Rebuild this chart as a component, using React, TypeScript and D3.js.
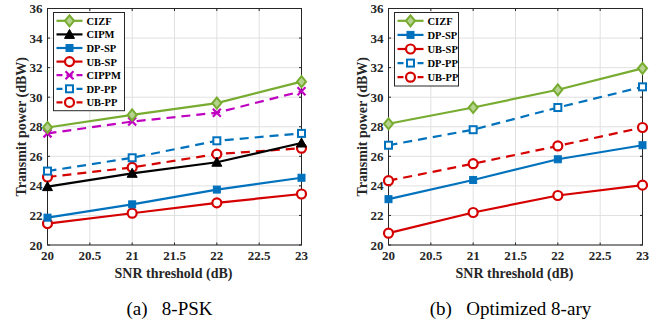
import { useEffect, useRef } from 'react';
import * as d3 from 'd3';

const snr = [20, 21, 22, 23];
const xTicks = [20, 20.5, 21, 21.5, 22, 22.5, 23];
const yTicks = [20, 22, 24, 26, 28, 30, 32, 34, 36];

// (a) 8-PSK
const pskCIZF = [27.95, 28.8, 29.6, 31.05];
const pskCIPM = [23.95, 24.85, 25.6, 26.9];
const pskDPSP = [21.85, 22.75, 23.75, 24.55];
const pskUBSP = [21.45, 22.15, 22.85, 23.45];
const pskCIPPM = [27.55, 28.35, 28.95, 30.4];
const pskDPPP = [25.0, 25.9, 27.05, 27.55];
const pskUBPP = [24.6, 25.25, 26.15, 26.55];

// (b) Optimized 8-ary
const optCIZF = [28.2, 29.3, 30.5, 31.95];
const optDPSP = [23.1, 24.4, 25.8, 26.75];
const optUBSP = [20.8, 22.2, 23.35, 24.05];
const optDPPP = [26.75, 27.8, 29.3, 30.7];
const optUBPP = [24.35, 25.5, 26.7, 27.95];

const GREEN = '#77ac30';
const BLUE = '#0072bd';
const RED = '#d50000';
const MAGENTA = '#c000c0';
const BLACK = '#000000';

const panels = [
  {
    left: 47.5, right: 301.5, caption: '(a)\u00a0\u00a0 8-PSK', rowH: 13.6, legendW: 71,
    series: [
      { name: 'CIZF', values: pskCIZF, color: GREEN, dash: false, marker: 'diamond' },
      { name: 'CIPM', values: pskCIPM, color: BLACK, dash: false, marker: 'triangle' },
      { name: 'DP-SP', values: pskDPSP, color: BLUE, dash: false, marker: 'squareFilled' },
      { name: 'UB-SP', values: pskUBSP, color: RED, dash: false, marker: 'circle' },
      { name: 'CIPPM', values: pskCIPPM, color: MAGENTA, dash: true, marker: 'cross' },
      { name: 'DP-PP', values: pskDPPP, color: BLUE, dash: true, marker: 'square' },
      { name: 'UB-PP', values: pskUBPP, color: RED, dash: true, marker: 'circle' },
    ],
  },
  {
    left: 388.5, right: 642.5, caption: '(b)\u00a0\u00a0 Optimized 8-ary', rowH: 14.1, legendW: 64,
    series: [
      { name: 'CIZF', values: optCIZF, color: GREEN, dash: false, marker: 'diamond' },
      { name: 'DP-SP', values: optDPSP, color: BLUE, dash: false, marker: 'squareFilled' },
      { name: 'UB-SP', values: optUBSP, color: RED, dash: false, marker: 'circle' },
      { name: 'DP-PP', values: optDPPP, color: BLUE, dash: true, marker: 'square' },
      { name: 'UB-PP', values: optUBPP, color: RED, dash: true, marker: 'circle' },
    ],
  },
];

function drawMarker(g, type, x, y, color) {
  if (type === 'diamond') {
    g.append('path')
      .attr('d', `M${x},${y - 5.5}L${x + 4.5},${y}L${x},${y + 5.5}L${x - 4.5},${y}Z`)
      .attr('fill', '#b5d38f').attr('stroke', color).attr('stroke-width', 2);
  } else if (type === 'triangle') {
    g.append('path')
      .attr('d', `M${x},${y - 5}L${x + 5},${y + 4}L${x - 5},${y + 4}Z`)
      .attr('fill', color).attr('stroke', color).attr('stroke-width', 1);
  } else if (type === 'squareFilled') {
    g.append('rect').attr('x', x - 3.5).attr('y', y - 3.5).attr('width', 7).attr('height', 7)
      .attr('fill', color).attr('stroke', color).attr('stroke-width', 1);
  } else if (type === 'square') {
    g.append('rect').attr('x', x - 3.5).attr('y', y - 3.5).attr('width', 7).attr('height', 7)
      .attr('fill', 'white').attr('stroke', color).attr('stroke-width', 2);
  } else if (type === 'circle') {
    g.append('circle').attr('cx', x).attr('cy', y).attr('r', 4.5)
      .attr('fill', 'white').attr('stroke', color).attr('stroke-width', 2.2);
  } else if (type === 'cross') {
    g.append('path')
      .attr('d', `M${x - 4},${y - 4}L${x + 4},${y + 4}M${x - 4},${y + 4}L${x + 4},${y - 4}`)
      .attr('stroke', color).attr('stroke-width', 2.2);
  }
}

export default function App() {
  const svgRef = useRef(null);

  useEffect(() => {
    document.body.style.margin = '0';
    const svg = d3.select(svgRef.current);
    svg.selectAll('*').remove();

    const top = 8.5;
    const bottom = 245;
    const font = '"Liberation Serif", "Times New Roman", serif';

    panels.forEach((p) => {
      const x = d3.scaleLinear().domain([20, 23]).range([p.left, p.right]);
      const y = d3.scaleLinear().domain([20, 36]).range([bottom, top]);
      const g = svg.append('g');

      // grid
      g.selectAll('line.gx').data(xTicks).enter().append('line')
        .attr('x1', (d) => x(d)).attr('x2', (d) => x(d))
        .attr('y1', top).attr('y2', bottom)
        .attr('stroke', '#e0e0e0').attr('stroke-width', 1);
      g.selectAll('line.gy').data(yTicks).enter().append('line')
        .attr('x1', p.left).attr('x2', p.right)
        .attr('y1', (d) => y(d)).attr('y2', (d) => y(d))
        .attr('stroke', '#e0e0e0').attr('stroke-width', 1);

      // box
      g.append('rect').attr('x', p.left).attr('y', top)
        .attr('width', p.right - p.left).attr('height', bottom - top)
        .attr('fill', 'none').attr('stroke', '#262626').attr('stroke-width', 1);

      // ticks inside
      xTicks.forEach((t) => {
        g.append('line').attr('x1', x(t)).attr('x2', x(t)).attr('y1', bottom).attr('y2', bottom - 2.5).attr('stroke', '#262626');
        g.append('line').attr('x1', x(t)).attr('x2', x(t)).attr('y1', top).attr('y2', top + 2.5).attr('stroke', '#262626');
      });
      yTicks.forEach((t) => {
        g.append('line').attr('x1', p.left).attr('x2', p.left + 2.5).attr('y1', y(t)).attr('y2', y(t)).attr('stroke', '#262626');
        g.append('line').attr('x1', p.right).attr('x2', p.right - 2.5).attr('y1', y(t)).attr('y2', y(t)).attr('stroke', '#262626');
      });

      // tick labels
      g.selectAll('text.xt').data(xTicks).enter().append('text')
        .attr('x', (d) => x(d)).attr('y', 260)
        .attr('text-anchor', 'middle')
        .attr('font-family', font).attr('font-weight', 'bold').attr('font-size', 13)
        .attr('fill', '#262626')
        .text((d) => d);
      g.selectAll('text.yt').data(yTicks).enter().append('text')
        .attr('x', p.left - 5).attr('y', (d) => y(d) + 4.5)
        .attr('text-anchor', 'end')
        .attr('font-family', font).attr('font-weight', 'bold').attr('font-size', 13)
        .attr('fill', '#262626')
        .text((d) => d);

      // axis labels
      g.append('text')
        .attr('x', (p.left + p.right) / 2 - 1).attr('y', 278)
        .attr('text-anchor', 'middle')
        .attr('font-family', font).attr('font-weight', 'bold').attr('font-size', 14)
        .attr('fill', '#262626')
        .text('SNR threshold (dB)');
      g.append('text')
        .attr('transform', `translate(${p.left - 22},${(top + bottom) / 2}) rotate(-90)`)
        .attr('text-anchor', 'middle')
        .attr('font-family', font).attr('font-weight', 'bold').attr('font-size', 14)
        .attr('fill', '#262626')
        .text('Transmit power (dBW)');

      // caption
      g.append('text')
        .attr('x', (p.left + p.right) / 2 - 5).attr('y', 315)
        .attr('text-anchor', 'middle')
        .attr('font-family', font).attr('font-size', 19)
        .attr('fill', '#000')
        .text(p.caption);

      // series (draw in reverse so first legend entries are on top)
      const line = d3.line().x((d, i) => x(snr[i])).y((d) => y(d));
      [...p.series].reverse().forEach((s) => {
        g.append('path')
          .attr('d', line(s.values))
          .attr('fill', 'none').attr('stroke', s.color).attr('stroke-width', 2.2)
          .attr('stroke-dasharray', s.dash ? '9,6' : null);
        s.values.forEach((v, i) => drawMarker(g, s.marker, x(snr[i]), y(v), s.color));
      });

      // legend
      const lx = p.left + 6;
      const ly = 12.5;
      const rowH = p.rowH;
      const lg = g.append('g');
      lg.append('rect').attr('x', lx).attr('y', ly)
        .attr('width', p.legendW).attr('height', p.series.length * rowH + 3)
        .attr('fill', 'white').attr('stroke', '#262626').attr('stroke-width', 1);
      p.series.forEach((s, i) => {
        const cy = ly + 8.3 + i * rowH;
        lg.append('line').attr('x1', lx + 3).attr('x2', lx + 29).attr('y1', cy).attr('y2', cy)
          .attr('stroke', s.color).attr('stroke-width', 2.2)
          .attr('stroke-dasharray', s.dash ? '6,4' : null);
        drawMarker(lg, s.marker, lx + 16, cy, s.color);
        lg.append('text').attr('x', lx + 33).attr('y', cy + 4)
          .attr('font-family', font).attr('font-weight', 'bold').attr('font-size', 10.5)
          .attr('fill', '#000')
          .text(s.name);
      });
    });
  }, []);

  return <svg ref={svgRef} width={666} height={325} style={{ display: 'block', background: 'white' }}></svg>;
}
